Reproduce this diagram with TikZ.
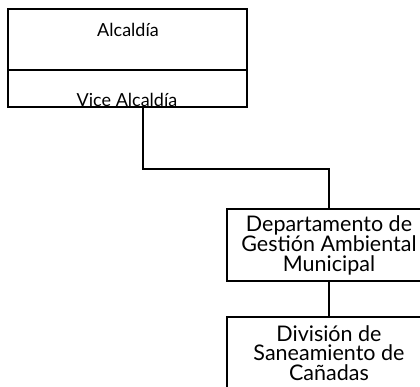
\documentclass[tikz,border=0pt]{standalone}
\usepackage{fontspec}
\setmainfont{Lato}
\usetikzlibrary{positioning}

\begin{document}
\begin{tikzpicture}[x=1pt, y=-1pt,
			boxnode/.style={rectangle, draw=black, line width=2pt, fill=white, minimum width=239pt, inner sep=0pt},
			orgnode/.style={rectangle, draw=black, line width=2pt, fill=white, minimum width=204pt, minimum height=72pt, inner sep=0pt},
			smalltext/.style={font=\fontsize{18}{19}\selectfont, inner sep=0pt},
			bigtext/.style={font=\fontsize{21.5}{19.5}\selectfont, align=center, inner sep=0pt},
			]
			\useasboundingbox (0,0) rectangle (420,387);
			\clip (0,0) rectangle (420,387);
			%Nodes
			\node[boxnode, minimum height=61pt] (alcaldia) at (127.5,39.5) {};
			\node[boxnode, minimum height=37pt] (vice) at (127.5,88.5) {};
			\node[smalltext] (alcaldiatext) at (128,30) {Alcaldía};
			\node[smalltext] (vicetext) at (127,99.5) {Vice Alcaldía};
			
			\node[orgnode] (dept) at (329,245) {};
			\node[bigtext] (depttext) at (dept.center) {Departamento de\\ Gestión Ambiental\\ Municipal};
			\node[orgnode] (division) at (329,353) {};
			\node[bigtext] (divisiontext) at (division.center) {División de\\ Saneamiento de\\ Cañadas};
			
			\coordinate (bend) at (143,169);
			
			%Lines
			\draw[line width=2pt] (vice.south -| bend) -- (bend) -| (dept.north);
			\draw[line width=2pt] (dept.south) -- (division.north);
		\end{tikzpicture}
\end{document}
